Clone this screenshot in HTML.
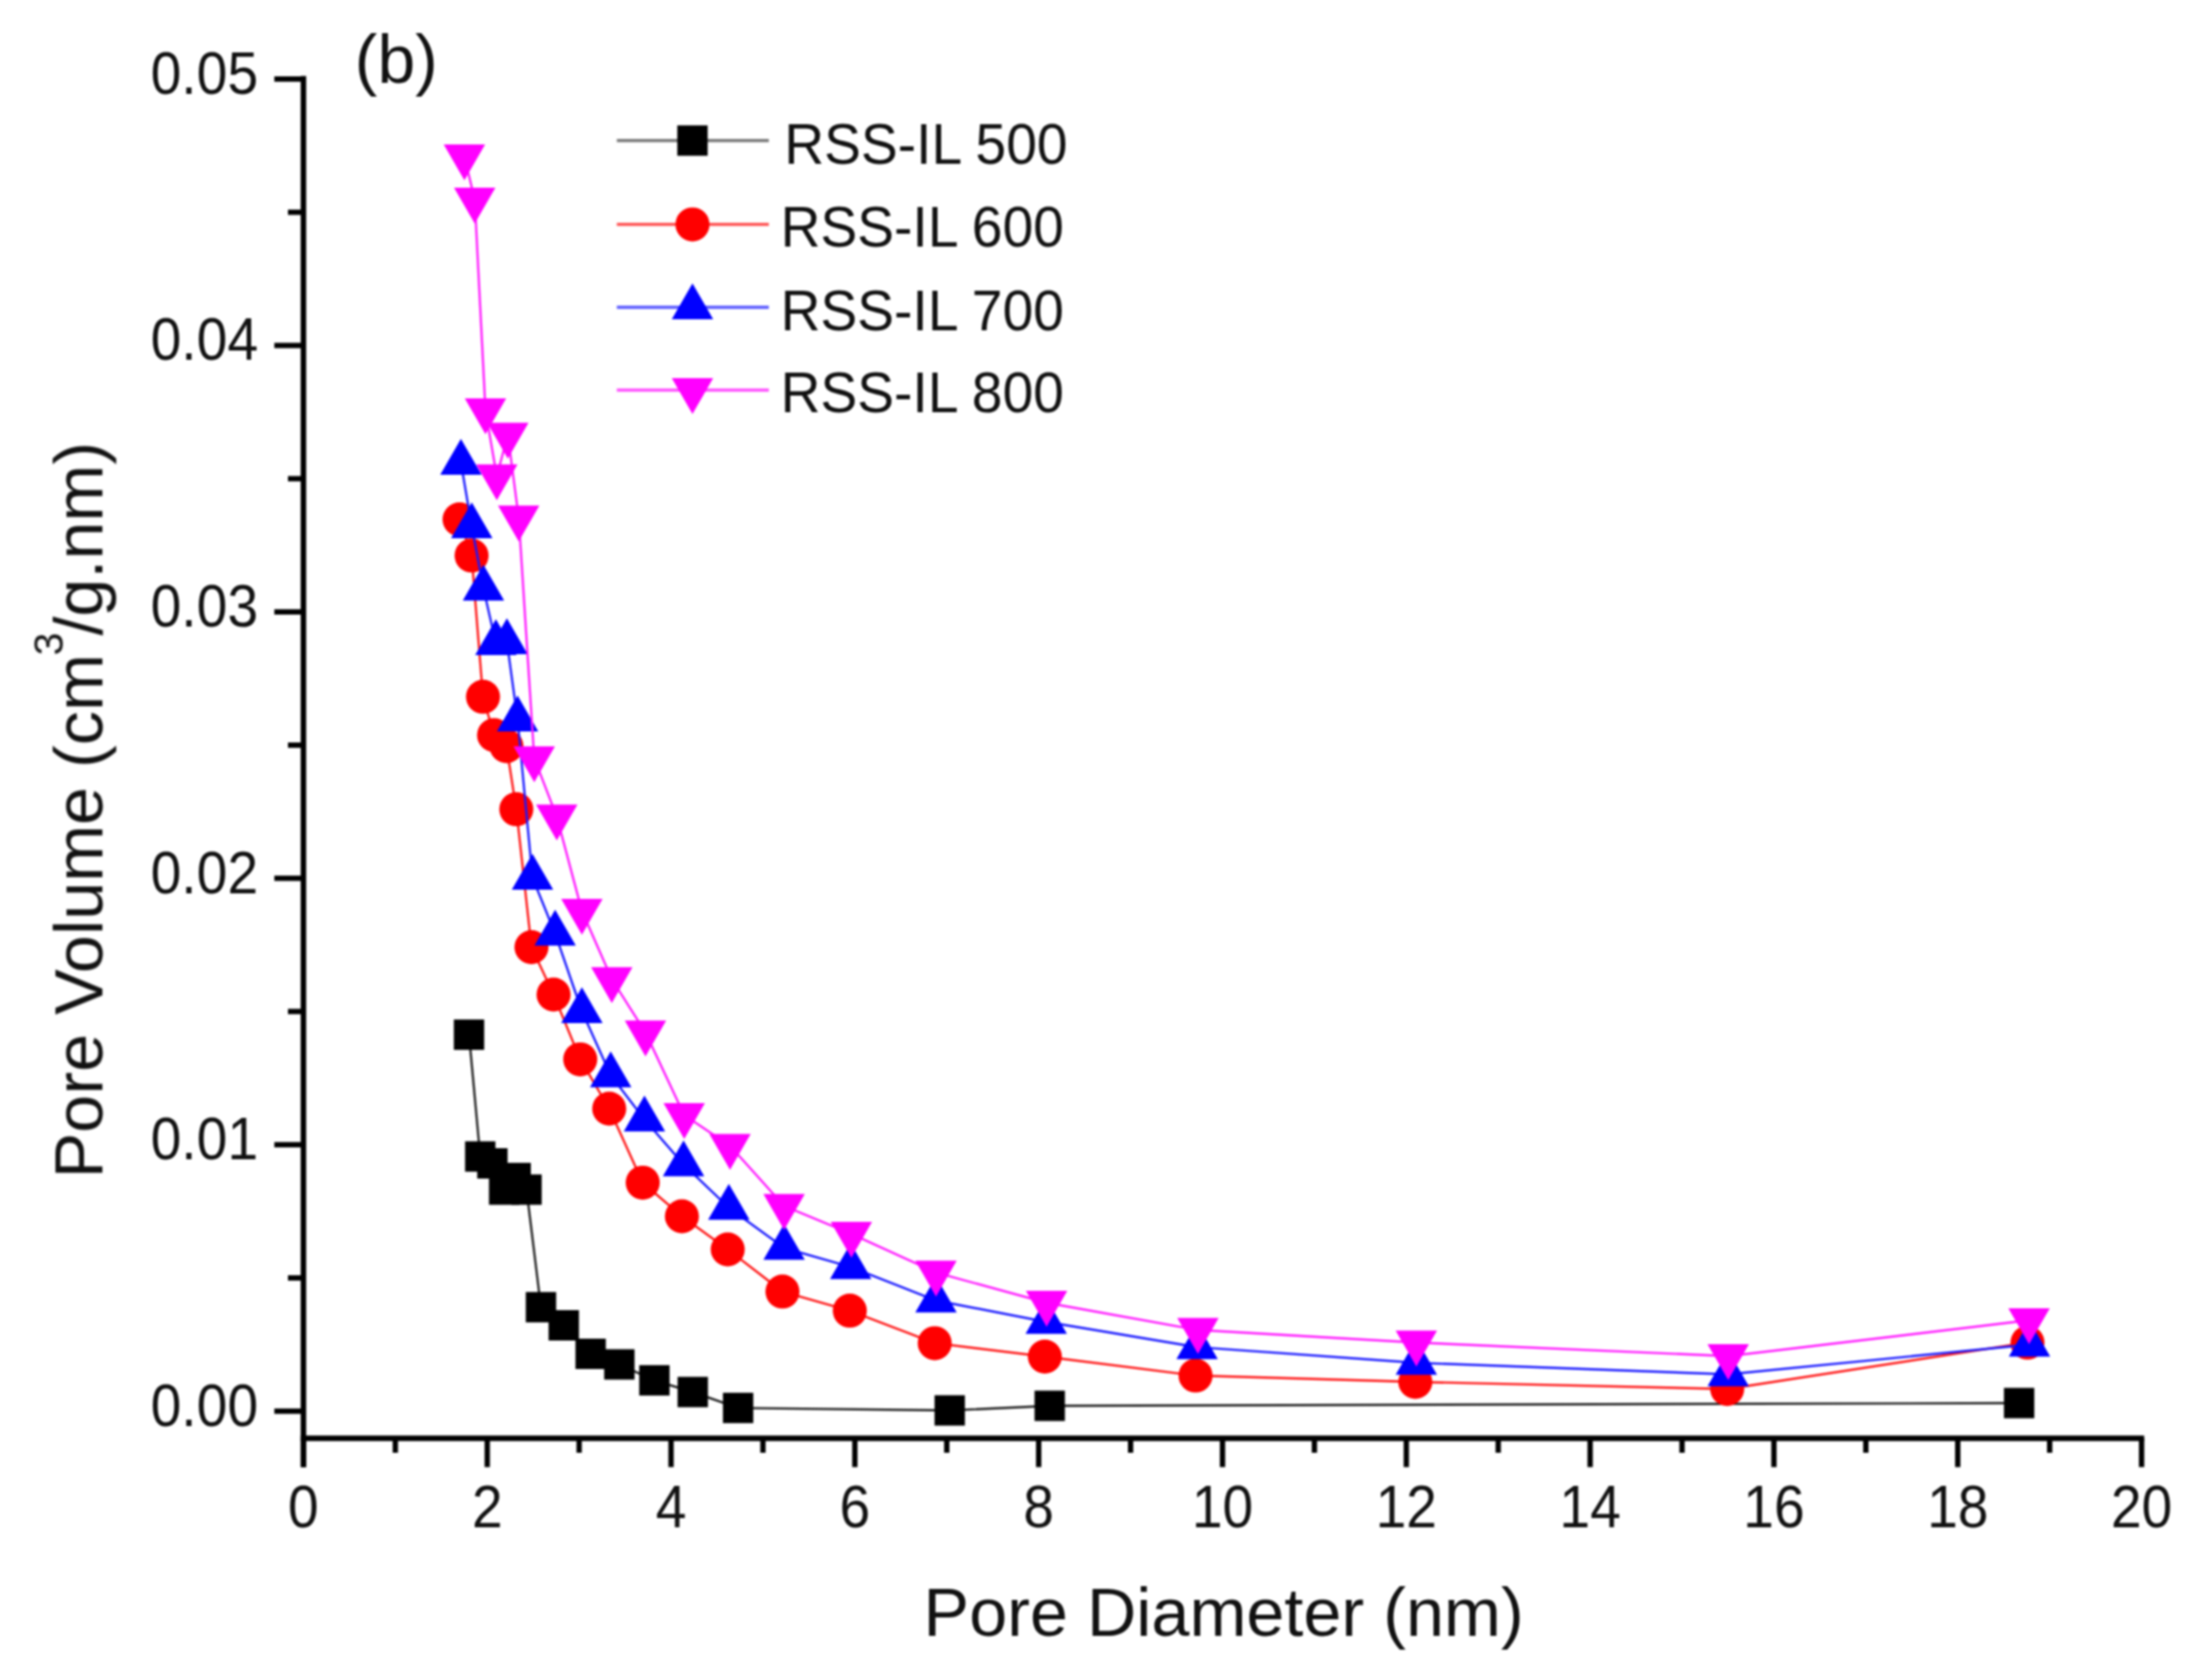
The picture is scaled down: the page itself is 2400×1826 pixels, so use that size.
<!DOCTYPE html>
<html lang="en">
<head>
<meta charset="utf-8">
<title>Pore size distribution (b)</title>
<style>
html,body{margin:0;padding:0;background:#fff;}
body{width:2400px;height:1826px;overflow:hidden;}
svg{display:block;}
text{font-family:"Liberation Sans",Arial,Helvetica,sans-serif;fill:#111;}
.tick{font-size:60px;}
.leg{font-size:60px;}
.ttl{font-size:74.3px;}
.pan{font-size:74px;}
</style>
</head>
<body>
<svg width="2400" height="1826" viewBox="0 0 2400 1826">
<defs><filter id="soft" x="0" y="0" width="2400" height="1826" filterUnits="userSpaceOnUse" color-interpolation-filters="sRGB"><feGaussianBlur stdDeviation="0.85"/></filter></defs>
<rect width="2400" height="1826" fill="#fff"/>
<g filter="url(#soft)">

<g fill="#000">
<rect x="326.8" y="82.6" width="6" height="1512"/>
<rect x="326.8" y="1560.3" width="2003.8" height="6"/>
<rect x="298.2" y="1530.9" width="31.6" height="5.8"/>
<rect x="313" y="1386.1" width="16.8" height="5.8"/>
<rect x="298.2" y="1241.3" width="31.6" height="5.8"/>
<rect x="313" y="1096.5" width="16.8" height="5.8"/>
<rect x="298.2" y="951.7" width="31.6" height="5.8"/>
<rect x="313" y="807" width="16.8" height="5.8"/>
<rect x="298.2" y="662.2" width="31.6" height="5.8"/>
<rect x="313" y="517.4" width="16.8" height="5.8"/>
<rect x="298.2" y="372.6" width="31.6" height="5.8"/>
<rect x="313" y="227.8" width="16.8" height="5.8"/>
<rect x="298.2" y="83" width="31.6" height="5.8"/>
<rect x="326.9" y="1563.3" width="5.8" height="31.3"/>
<rect x="426.8" y="1563.3" width="5.8" height="15.7"/>
<rect x="526.7" y="1563.3" width="5.8" height="31.3"/>
<rect x="626.6" y="1563.3" width="5.8" height="15.7"/>
<rect x="726.5" y="1563.3" width="5.8" height="31.3"/>
<rect x="826.4" y="1563.3" width="5.8" height="15.7"/>
<rect x="926.3" y="1563.3" width="5.8" height="31.3"/>
<rect x="1026.2" y="1563.3" width="5.8" height="15.7"/>
<rect x="1126.1" y="1563.3" width="5.8" height="31.3"/>
<rect x="1226" y="1563.3" width="5.8" height="15.7"/>
<rect x="1325.9" y="1563.3" width="5.8" height="31.3"/>
<rect x="1425.8" y="1563.3" width="5.8" height="15.7"/>
<rect x="1525.7" y="1563.3" width="5.8" height="31.3"/>
<rect x="1625.6" y="1563.3" width="5.8" height="15.7"/>
<rect x="1725.5" y="1563.3" width="5.8" height="31.3"/>
<rect x="1825.4" y="1563.3" width="5.8" height="15.7"/>
<rect x="1925.3" y="1563.3" width="5.8" height="31.3"/>
<rect x="2025.2" y="1563.3" width="5.8" height="15.7"/>
<rect x="2125.1" y="1563.3" width="5.8" height="31.3"/>
<rect x="2225" y="1563.3" width="5.8" height="15.7"/>
<rect x="2324.9" y="1563.3" width="5.8" height="31.3"/>
</g>
<text class="tick" text-anchor="end" transform="translate(280.5 1549.8) scale(1 1.07)">0.00</text>
<text class="tick" text-anchor="end" transform="translate(280.5 1260.2) scale(1 1.07)">0.01</text>
<text class="tick" text-anchor="end" transform="translate(280.5 970.6) scale(1 1.07)">0.02</text>
<text class="tick" text-anchor="end" transform="translate(280.5 681.1) scale(1 1.07)">0.03</text>
<text class="tick" text-anchor="end" transform="translate(280.5 391.5) scale(1 1.07)">0.04</text>
<text class="tick" text-anchor="end" transform="translate(280.5 101.9) scale(1 1.07)">0.05</text>
<text class="tick" text-anchor="middle" transform="translate(329.8 1660) scale(1 1.07)">0</text>
<text class="tick" text-anchor="middle" transform="translate(529.6 1660) scale(1 1.07)">2</text>
<text class="tick" text-anchor="middle" transform="translate(729.4 1660) scale(1 1.07)">4</text>
<text class="tick" text-anchor="middle" transform="translate(929.2 1660) scale(1 1.07)">6</text>
<text class="tick" text-anchor="middle" transform="translate(1129 1660) scale(1 1.07)">8</text>
<text class="tick" text-anchor="middle" transform="translate(1328.8 1660) scale(1 1.07)">10</text>
<text class="tick" text-anchor="middle" transform="translate(1528.6 1660) scale(1 1.07)">12</text>
<text class="tick" text-anchor="middle" transform="translate(1728.4 1660) scale(1 1.07)">14</text>
<text class="tick" text-anchor="middle" transform="translate(1928.2 1660) scale(1 1.07)">16</text>
<text class="tick" text-anchor="middle" transform="translate(2128 1660) scale(1 1.07)">18</text>
<text class="tick" text-anchor="middle" transform="translate(2327.8 1660) scale(1 1.07)">20</text>
<text class="ttl" text-anchor="middle" transform="translate(1330 1777.5) scale(1 1.0)">Pore Diameter (nm)</text>
<text class="ttl" text-anchor="middle" transform="translate(111.3 880.5) rotate(-90) scale(1 1.0)">Pore Volume (cm<tspan dy="-43" dx="-1.5" font-size="45">3</tspan><tspan dy="43" dx="-3.5">/g.nm)</tspan></text>
<text class="pan" text-anchor="start" transform="translate(385.5 89.7) scale(1 1.0)">(b)</text>
<g fill="#000">
<polyline fill="none" stroke="#1c1c1c" stroke-width="2.4" points="509.8,1124.6 522,1257 535.2,1264.5 548,1293 560.5,1280.4 572.3,1293 588,1420.8 612.8,1440.5 642,1471.5 673.2,1483 711.3,1500.3 753,1513 802.3,1530.3 1032.3,1533 1141,1528 2194.7,1525"/>
<rect x="493.3" y="1108.1" width="33" height="33"/><rect x="505.5" y="1240.5" width="33" height="33"/><rect x="518.7" y="1248" width="33" height="33"/><rect x="531.5" y="1276.5" width="33" height="33"/><rect x="544" y="1263.9" width="33" height="33"/><rect x="555.8" y="1276.5" width="33" height="33"/><rect x="571.5" y="1404.3" width="33" height="33"/><rect x="596.3" y="1424" width="33" height="33"/><rect x="625.5" y="1455" width="33" height="33"/><rect x="656.7" y="1466.5" width="33" height="33"/><rect x="694.8" y="1483.8" width="33" height="33"/><rect x="736.5" y="1496.5" width="33" height="33"/><rect x="785.8" y="1513.8" width="33" height="33"/><rect x="1015.8" y="1516.5" width="33" height="33"/><rect x="1124.5" y="1511.5" width="33" height="33"/><rect x="2178.2" y="1508.5" width="33" height="33"/>
</g>
<g fill="#f00">
<polyline fill="none" stroke="#ff1414" stroke-width="2.4" points="499.5,564.5 512.6,603.8 525,757.3 537,799 550.5,811 561.2,879.6 577.7,1029.5 601.7,1081 630.7,1151.4 662.2,1205 698.6,1285.4 741.2,1322 791,1358 850.5,1403.8 923.7,1424.6 1016,1459.9 1135.7,1474.5 1299.5,1495.1 1538.4,1502 1877.4,1509.7 2203.8,1459.3"/>
<circle cx="499.5" cy="564.5" r="18.5"/><circle cx="512.6" cy="603.8" r="18.5"/><circle cx="525" cy="757.3" r="18.5"/><circle cx="537" cy="799" r="18.5"/><circle cx="550.5" cy="811" r="18.5"/><circle cx="561.2" cy="879.6" r="18.5"/><circle cx="577.7" cy="1029.5" r="18.5"/><circle cx="601.7" cy="1081" r="18.5"/><circle cx="630.7" cy="1151.4" r="18.5"/><circle cx="662.2" cy="1205" r="18.5"/><circle cx="698.6" cy="1285.4" r="18.5"/><circle cx="741.2" cy="1322" r="18.5"/><circle cx="791" cy="1358" r="18.5"/><circle cx="850.5" cy="1403.8" r="18.5"/><circle cx="923.7" cy="1424.6" r="18.5"/><circle cx="1016" cy="1459.9" r="18.5"/><circle cx="1135.7" cy="1474.5" r="18.5"/><circle cx="1299.5" cy="1495.1" r="18.5"/><circle cx="1538.4" cy="1502" r="18.5"/><circle cx="1877.4" cy="1509.7" r="18.5"/><circle cx="2203.8" cy="1459.3" r="18.5"/>
</g>
<g fill="#00f">
<polyline fill="none" stroke="#1818ff" stroke-width="2.4" points="501,503 512.8,572 525.5,639.7 539,699 551,698 562.6,782 578.8,954 603.4,1014.7 632.5,1099 663.8,1168.7 700.5,1216.7 743,1265.6 792.2,1312.7 852.3,1356.3 924.7,1377.2 1017.4,1413.5 1137.2,1436.8 1301.2,1464.2 1539.5,1481.2 1878.5,1493.8 2206,1461.5"/>
<path d="M501 477L523.5 516H478.5Z"/><path d="M512.8 546L535.3 585H490.3Z"/><path d="M525.5 613.7L548 652.7H503Z"/><path d="M539 673L561.5 712H516.5Z"/><path d="M551 672L573.5 711H528.5Z"/><path d="M562.6 756L585.1 795H540.1Z"/><path d="M578.8 928L601.3 967H556.3Z"/><path d="M603.4 988.7L625.9 1027.7H580.9Z"/><path d="M632.5 1073L655 1112H610Z"/><path d="M663.8 1142.7L686.3 1181.7H641.3Z"/><path d="M700.5 1190.7L723 1229.7H678Z"/><path d="M743 1239.6L765.5 1278.6H720.5Z"/><path d="M792.2 1286.7L814.7 1325.7H769.7Z"/><path d="M852.3 1330.3L874.8 1369.3H829.8Z"/><path d="M924.7 1351.2L947.2 1390.2H902.2Z"/><path d="M1017.4 1387.5L1039.9 1426.5H994.9Z"/><path d="M1137.2 1410.8L1159.7 1449.8H1114.7Z"/><path d="M1301.2 1438.2L1323.7 1477.2H1278.7Z"/><path d="M1539.5 1455.2L1562 1494.2H1517Z"/><path d="M1878.5 1467.8L1901 1506.8H1856Z"/><path d="M2206 1435.5L2228.5 1474.5H2183.5Z"/>
</g>
<g fill="#f0f">
<polyline fill="none" stroke="#ff18ff" stroke-width="2.4" points="504.8,170 516,217 527.7,446 540,517.7 552,472.4 563.8,562.5 580.7,824.2 605.2,887.6 632.5,990 665,1064.3 701.6,1122.2 743.7,1212 793.5,1245.4 852.3,1310.8 925.4,1341.1 1017.4,1383.2 1137.6,1416 1302.1,1445.6 1539.5,1459.2 1878.5,1474 2205.5,1435"/>
<path d="M504.8 196L527.3 157H482.3Z"/><path d="M516 243L538.5 204H493.5Z"/><path d="M527.7 472L550.2 433H505.2Z"/><path d="M540 543.7L562.5 504.7H517.5Z"/><path d="M552 498.4L574.5 459.4H529.5Z"/><path d="M563.8 588.5L586.3 549.5H541.3Z"/><path d="M580.7 850.2L603.2 811.2H558.2Z"/><path d="M605.2 913.6L627.7 874.6H582.7Z"/><path d="M632.5 1016L655 977H610Z"/><path d="M665 1090.3L687.5 1051.3H642.5Z"/><path d="M701.6 1148.2L724.1 1109.2H679.1Z"/><path d="M743.7 1238L766.2 1199H721.2Z"/><path d="M793.5 1271.4L816 1232.4H771Z"/><path d="M852.3 1336.8L874.8 1297.8H829.8Z"/><path d="M925.4 1367.1L947.9 1328.1H902.9Z"/><path d="M1017.4 1409.2L1039.9 1370.2H994.9Z"/><path d="M1137.6 1442L1160.1 1403H1115.1Z"/><path d="M1302.1 1471.6L1324.6 1432.6H1279.6Z"/><path d="M1539.5 1485.2L1562 1446.2H1517Z"/><path d="M1878.5 1500L1901 1461H1856Z"/><path d="M2205.5 1461L2228 1422H2183Z"/>
</g>
<g fill="#000"><line x1="670.5" x2="835.7" y1="152.8" y2="152.8" stroke="#7a7a7a" stroke-width="3.4"/><rect x="736.2" y="136.3" width="33" height="33"/></g>
<text class="leg" text-anchor="start" transform="translate(852.5 177.8) scale(1 1.05)">RSS-IL 500</text>
<g fill="#f00"><line x1="670.5" x2="835.7" y1="243.9" y2="243.9" stroke="#ff4a4a" stroke-width="3.4"/><circle cx="752.7" cy="243.9" r="18.5"/></g>
<text class="leg" text-anchor="start" transform="translate(848.5 268.1) scale(1 1.05)">RSS-IL 600</text>
<g fill="#00f"><line x1="670.5" x2="835.7" y1="334" y2="334" stroke="#5a5aff" stroke-width="3.4"/><path d="M752.7 308L775.2 347H730.2Z"/></g>
<text class="leg" text-anchor="start" transform="translate(848.5 358.5) scale(1 1.05)">RSS-IL 700</text>
<g fill="#f0f"><line x1="670.5" x2="835.7" y1="424" y2="424" stroke="#ff50ff" stroke-width="3.4"/><path d="M752.7 450L775.2 411H730.2Z"/></g>
<text class="leg" text-anchor="start" transform="translate(848.5 448.2) scale(1 1.05)">RSS-IL 800</text>
</g>
</svg>
</body>
</html>
